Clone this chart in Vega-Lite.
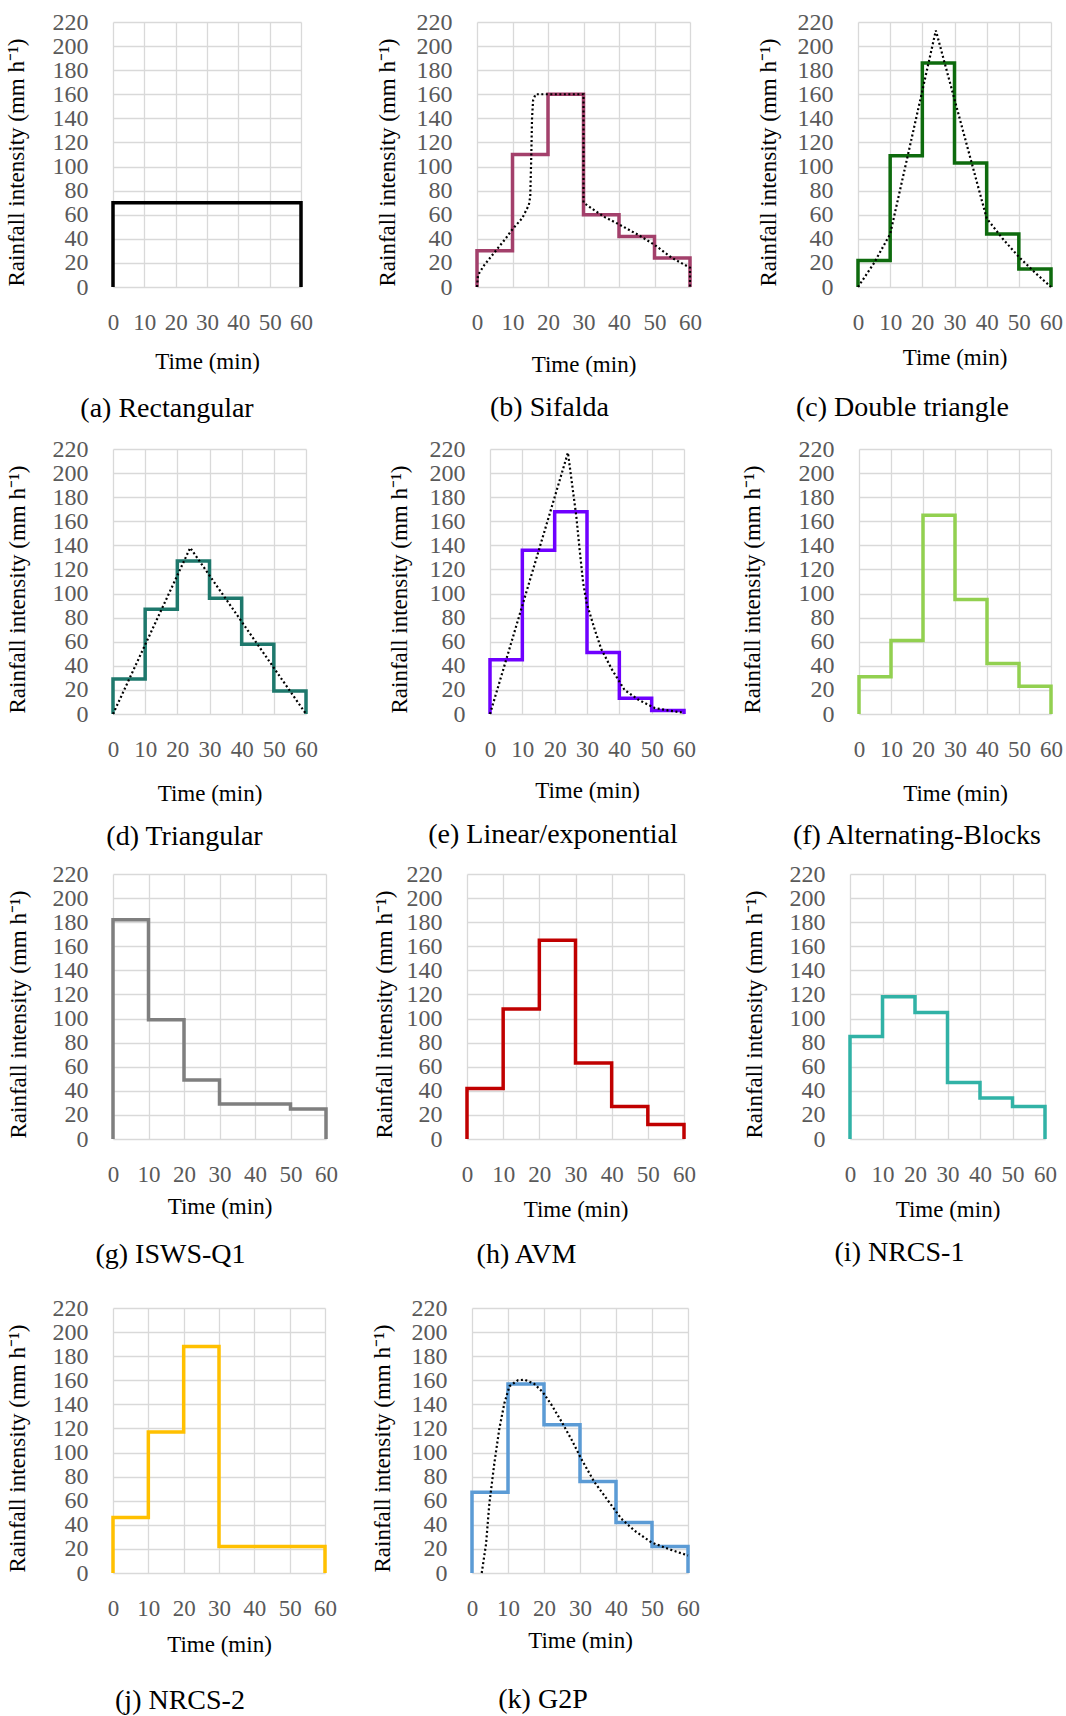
{
  "$schema": "https://vega.github.io/schema/vega-lite/v6.json",
  "padding": {"left": 4, "top": 10, "right": 0, "bottom": 0},
  "background": "white",
  "datasets": {
    "steps": [
      {"p":"a","i":0,"t":0,"v":0},{"p":"a","i":1,"t":0,"v":70},{"p":"a","i":2,"t":10,"v":70},{"p":"a","i":3,"t":20,"v":70},{"p":"a","i":4,"t":30,"v":70},{"p":"a","i":5,"t":40,"v":70},{"p":"a","i":6,"t":50,"v":70},{"p":"a","i":7,"t":60,"v":0},
      {"p":"b","i":0,"t":0,"v":0},{"p":"b","i":1,"t":0,"v":30},{"p":"b","i":2,"t":10,"v":110},{"p":"b","i":3,"t":20,"v":160},{"p":"b","i":4,"t":30,"v":60},{"p":"b","i":5,"t":40,"v":42},{"p":"b","i":6,"t":50,"v":24},{"p":"b","i":7,"t":60,"v":0},
      {"p":"c","i":0,"t":0,"v":0},{"p":"c","i":1,"t":0,"v":22},{"p":"c","i":2,"t":10,"v":109},{"p":"c","i":3,"t":20,"v":186},{"p":"c","i":4,"t":30,"v":103},{"p":"c","i":5,"t":40,"v":44},{"p":"c","i":6,"t":50,"v":15},{"p":"c","i":7,"t":60,"v":0},
      {"p":"d","i":0,"t":0,"v":0},{"p":"d","i":1,"t":0,"v":29},{"p":"d","i":2,"t":10,"v":87},{"p":"d","i":3,"t":20,"v":127},{"p":"d","i":4,"t":30,"v":96},{"p":"d","i":5,"t":40,"v":58},{"p":"d","i":6,"t":50,"v":19},{"p":"d","i":7,"t":60,"v":0},
      {"p":"e","i":0,"t":0,"v":0},{"p":"e","i":1,"t":0,"v":45},{"p":"e","i":2,"t":10,"v":136},{"p":"e","i":3,"t":20,"v":168},{"p":"e","i":4,"t":30,"v":51},{"p":"e","i":5,"t":40,"v":13},{"p":"e","i":6,"t":50,"v":3},{"p":"e","i":7,"t":60,"v":0},
      {"p":"f","i":0,"t":0,"v":0},{"p":"f","i":1,"t":0,"v":31},{"p":"f","i":2,"t":10,"v":61},{"p":"f","i":3,"t":20,"v":165},{"p":"f","i":4,"t":30,"v":95},{"p":"f","i":5,"t":40,"v":42},{"p":"f","i":6,"t":50,"v":23},{"p":"f","i":7,"t":60,"v":0},
      {"p":"g","i":0,"t":0,"v":0},{"p":"g","i":1,"t":0,"v":182},{"p":"g","i":2,"t":10,"v":99},{"p":"g","i":3,"t":20,"v":49},{"p":"g","i":4,"t":30,"v":29},{"p":"g","i":5,"t":40,"v":29},{"p":"g","i":6,"t":50,"v":25},{"p":"g","i":7,"t":60,"v":0},
      {"p":"h","i":0,"t":0,"v":0},{"p":"h","i":1,"t":0,"v":42},{"p":"h","i":2,"t":10,"v":108},{"p":"h","i":3,"t":20,"v":165},{"p":"h","i":4,"t":30,"v":63},{"p":"h","i":5,"t":40,"v":27},{"p":"h","i":6,"t":50,"v":12},{"p":"h","i":7,"t":60,"v":0},
      {"p":"i","i":0,"t":0,"v":0},{"p":"i","i":1,"t":0,"v":85},{"p":"i","i":2,"t":10,"v":118},{"p":"i","i":3,"t":20,"v":105},{"p":"i","i":4,"t":30,"v":47},{"p":"i","i":5,"t":40,"v":34},{"p":"i","i":6,"t":50,"v":27},{"p":"i","i":7,"t":60,"v":0},
      {"p":"j","i":0,"t":0,"v":0},{"p":"j","i":1,"t":0,"v":46},{"p":"j","i":2,"t":10,"v":117},{"p":"j","i":3,"t":20,"v":188},{"p":"j","i":4,"t":30,"v":22},{"p":"j","i":5,"t":40,"v":22},{"p":"j","i":6,"t":50,"v":22},{"p":"j","i":7,"t":60,"v":0},
      {"p":"k","i":0,"t":0,"v":0},{"p":"k","i":1,"t":0,"v":67},{"p":"k","i":2,"t":10,"v":157},{"p":"k","i":3,"t":20,"v":123},{"p":"k","i":4,"t":30,"v":76},{"p":"k","i":5,"t":40,"v":42},{"p":"k","i":6,"t":50,"v":22},{"p":"k","i":7,"t":60,"v":0}
    ],
    "dotted": [
      {"p":"b","i":0,"t":0,"v":0},{"p":"b","i":1,"t":0.3,"v":10},{"p":"b","i":2,"t":2,"v":18},{"p":"b","i":3,"t":5,"v":29},{"p":"b","i":4,"t":8,"v":40},{"p":"b","i":5,"t":10,"v":48},{"p":"b","i":6,"t":12.7,"v":57},{"p":"b","i":7,"t":14.6,"v":68},{"p":"b","i":8,"t":15,"v":75},{"p":"b","i":9,"t":15.3,"v":110},{"p":"b","i":10,"t":15.5,"v":140},{"p":"b","i":11,"t":15.8,"v":155},{"p":"b","i":12,"t":16.5,"v":160},{"p":"b","i":13,"t":30,"v":160},{"p":"b","i":14,"t":30,"v":70},{"p":"b","i":15,"t":33.4,"v":63},{"p":"b","i":16,"t":36,"v":58},{"p":"b","i":17,"t":40,"v":52},{"p":"b","i":18,"t":45.6,"v":43},{"p":"b","i":19,"t":50,"v":35},{"p":"b","i":20,"t":55,"v":24},{"p":"b","i":21,"t":60,"v":16},{"p":"b","i":22,"t":60,"v":0},
      {"p":"c","i":0,"t":0,"v":0},{"p":"c","i":1,"t":5,"v":20},{"p":"c","i":2,"t":10,"v":44},{"p":"c","i":3,"t":24.2,"v":213},{"p":"c","i":4,"t":40,"v":57},{"p":"c","i":5,"t":45,"v":40},{"p":"c","i":6,"t":50,"v":25},{"p":"c","i":7,"t":55,"v":12},{"p":"c","i":8,"t":60,"v":0},
      {"p":"d","i":0,"t":0,"v":0},{"p":"d","i":1,"t":24,"v":138},{"p":"d","i":2,"t":60,"v":0},
      {"p":"e","i":0,"t":0,"v":0},{"p":"e","i":1,"t":24.1,"v":217},{"p":"e","i":2,"t":26.7,"v":164},{"p":"e","i":3,"t":27.7,"v":137},{"p":"e","i":4,"t":28.8,"v":109},{"p":"e","i":5,"t":29.9,"v":92},{"p":"e","i":6,"t":32.4,"v":70},{"p":"e","i":7,"t":34.4,"v":54},{"p":"e","i":8,"t":37.7,"v":37},{"p":"e","i":9,"t":41.6,"v":20},{"p":"e","i":10,"t":45.8,"v":12},{"p":"e","i":11,"t":50.9,"v":5},{"p":"e","i":12,"t":55,"v":3},{"p":"e","i":13,"t":60,"v":1},
      {"p":"k","i":0,"t":2.7,"v":0},{"p":"k","i":1,"t":3.9,"v":24},{"p":"k","i":2,"t":4.8,"v":57},{"p":"k","i":3,"t":6.2,"v":91},{"p":"k","i":4,"t":7.6,"v":120},{"p":"k","i":5,"t":9,"v":141},{"p":"k","i":6,"t":10.4,"v":155},{"p":"k","i":7,"t":12.7,"v":160},{"p":"k","i":8,"t":14.6,"v":160.5},{"p":"k","i":9,"t":17.3,"v":157},{"p":"k","i":10,"t":19.7,"v":150},{"p":"k","i":11,"t":22,"v":140},{"p":"k","i":12,"t":24.8,"v":126},{"p":"k","i":13,"t":27.6,"v":111},{"p":"k","i":14,"t":30.3,"v":95},{"p":"k","i":15,"t":34,"v":75.5},{"p":"k","i":16,"t":37.8,"v":60},{"p":"k","i":17,"t":41.5,"v":45},{"p":"k","i":18,"t":45.2,"v":35},{"p":"k","i":19,"t":49.8,"v":25.5},{"p":"k","i":20,"t":54.5,"v":20},{"p":"k","i":21,"t":60,"v":14.5}
    ]
  },
  "spacing": 14,
  "vconcat": [
    {"spacing": 62, "hconcat": [
      {"width": 188, "height": 265, "title": {"text": "(a) Rectangular", "orient": "bottom", "offset": 22, "dx": -40},
       "encoding": {"x": {"field": "t", "type": "quantitative", "scale": {"domain": [0, 60], "nice": false}, "axis": {"title": "Time (min)", "values": [0,10,20,30,40,50,60], "titlePadding": 16}},
                    "y": {"field": "v", "type": "quantitative", "scale": {"domain": [0, 220], "nice": false}, "axis": {"title": "Rainfall intensity (mm h⁻¹)", "values": [0,20,40,60,80,100,120,140,160,180,200,220], "titlePadding": 24}},
                    "order": {"field": "i"}},
       "layer": [
        {"data": {"name": "steps"}, "transform": [{"filter": "datum.p === 'a'"}], "mark": {"type": "line", "interpolate": "step-after", "color": "#000000", "strokeWidth": 3.5}}
       ]},
      {"spacing": 54, "hconcat": [
        {"width": 213, "height": 265, "title": {"text": "(b) Sifalda", "orient": "bottom", "offset": 18, "dx": -34},
         "encoding": {"x": {"field": "t", "type": "quantitative", "scale": {"domain": [0, 60], "nice": false}, "axis": {"title": "Time (min)", "values": [0,10,20,30,40,50,60], "titlePadding": 19}},
                      "y": {"field": "v", "type": "quantitative", "scale": {"domain": [0, 220], "nice": false}, "axis": {"title": "Rainfall intensity (mm h⁻¹)", "values": [0,20,40,60,80,100,120,140,160,180,200,220], "titlePadding": 17}},
                      "order": {"field": "i"}},
         "layer": [
          {"data": {"name": "steps"}, "transform": [{"filter": "datum.p === 'b'"}], "mark": {"type": "line", "interpolate": "step-after", "color": "#a3406b", "strokeWidth": 3.5}},
          {"data": {"name": "dotted"}, "transform": [{"filter": "datum.p === 'b'"}], "mark": {"type": "line", "color": "#000000", "strokeWidth": 2.2, "strokeDash": [2, 2.5]}}
         ]},
        {"width": 193, "height": 265, "title": {"text": "(c) Double triangle", "orient": "bottom", "offset": 25, "dx": -52},
         "encoding": {"x": {"field": "t", "type": "quantitative", "scale": {"domain": [0, 60], "nice": false}, "axis": {"title": "Time (min)", "values": [0,10,20,30,40,50,60], "titlePadding": 12}},
                      "y": {"field": "v", "type": "quantitative", "scale": {"domain": [0, 220], "nice": false}, "axis": {"title": "Rainfall intensity (mm h⁻¹)", "values": [0,20,40,60,80,100,120,140,160,180,200,220], "titlePadding": 17}},
                      "order": {"field": "i"}},
         "layer": [
          {"data": {"name": "steps"}, "transform": [{"filter": "datum.p === 'c'"}], "mark": {"type": "line", "interpolate": "step-after", "color": "#0e6b0e", "strokeWidth": 3.5}},
          {"data": {"name": "dotted"}, "transform": [{"filter": "datum.p === 'c'"}], "mark": {"type": "line", "color": "#000000", "strokeWidth": 2.2, "strokeDash": [2, 2.5]}}
         ]}
      ]}
    ]},
    {"spacing": 11, "vconcat": [
      {"spacing": 69, "hconcat": [
        {"width": 193, "height": 265, "title": {"text": "(d) Triangular", "orient": "bottom", "offset": 18, "dx": -25},
         "encoding": {"x": {"field": "t", "type": "quantitative", "scale": {"domain": [0, 60], "nice": false}, "axis": {"title": "Time (min)", "values": [0,10,20,30,40,50,60], "titlePadding": 21}},
                      "y": {"field": "v", "type": "quantitative", "scale": {"domain": [0, 220], "nice": false}, "axis": {"title": "Rainfall intensity (mm h⁻¹)", "values": [0,20,40,60,80,100,120,140,160,180,200,220], "titlePadding": 23}},
                      "order": {"field": "i"}},
         "layer": [
          {"data": {"name": "steps"}, "transform": [{"filter": "datum.p === 'd'"}], "mark": {"type": "line", "interpolate": "step-after", "color": "#1e786c", "strokeWidth": 3.5}},
          {"data": {"name": "dotted"}, "transform": [{"filter": "datum.p === 'd'"}], "mark": {"type": "line", "color": "#000000", "strokeWidth": 2.2, "strokeDash": [2, 2.5]}}
         ]},
        {"spacing": 44, "hconcat": [
          {"width": 194, "height": 265, "title": {"text": "(e) Linear/exponential", "orient": "bottom", "offset": 19, "dx": -34},
           "encoding": {"x": {"field": "t", "type": "quantitative", "scale": {"domain": [0, 60], "nice": false}, "axis": {"title": "Time (min)", "values": [0,10,20,30,40,50,60], "titlePadding": 18}},
                        "y": {"field": "v", "type": "quantitative", "scale": {"domain": [0, 220], "nice": false}, "axis": {"title": "Rainfall intensity (mm h⁻¹)", "values": [0,20,40,60,80,100,120,140,160,180,200,220], "titlePadding": 18}},
                        "order": {"field": "i"}},
           "layer": [
            {"data": {"name": "steps"}, "transform": [{"filter": "datum.p === 'e'"}], "mark": {"type": "line", "interpolate": "step-after", "color": "#6f00ff", "strokeWidth": 3.5}},
            {"data": {"name": "dotted"}, "transform": [{"filter": "datum.p === 'e'"}], "mark": {"type": "line", "color": "#000000", "strokeWidth": 2.2, "strokeDash": [2, 2.5]}}
           ]},
          {"width": 192, "height": 265, "title": {"text": "(f) Alternating-Blocks", "orient": "bottom", "offset": 17, "dx": -38},
           "encoding": {"x": {"field": "t", "type": "quantitative", "scale": {"domain": [0, 60], "nice": false}, "axis": {"title": "Time (min)", "values": [0,10,20,30,40,50,60], "titlePadding": 21}},
                        "y": {"field": "v", "type": "quantitative", "scale": {"domain": [0, 220], "nice": false}, "axis": {"title": "Rainfall intensity (mm h⁻¹)", "values": [0,20,40,60,80,100,120,140,160,180,200,220], "titlePadding": 34}},
                        "order": {"field": "i"}},
           "layer": [
            {"data": {"name": "steps"}, "transform": [{"filter": "datum.p === 'f'"}], "mark": {"type": "line", "interpolate": "step-after", "color": "#92d050", "strokeWidth": 3.5}}
           ]}
        ]}
      ]},
      {"spacing": 27, "vconcat": [
        {"spacing": 34, "hconcat": [
          {"width": 213, "height": 265, "title": {"text": "(g) ISWS-Q1", "orient": "bottom", "offset": 23, "dx": -49},
           "encoding": {"x": {"field": "t", "type": "quantitative", "scale": {"domain": [0, 60], "nice": false}, "axis": {"title": "Time (min)", "values": [0,10,20,30,40,50,60], "titlePadding": 9}},
                        "y": {"field": "v", "type": "quantitative", "scale": {"domain": [0, 220], "nice": false}, "axis": {"title": "Rainfall intensity (mm h⁻¹)", "values": [0,20,40,60,80,100,120,140,160,180,200,220], "titlePadding": 22}},
                        "order": {"field": "i"}},
           "layer": [
            {"data": {"name": "steps"}, "transform": [{"filter": "datum.p === 'g'"}], "mark": {"type": "line", "interpolate": "step-after", "color": "#7f7f7f", "strokeWidth": 3.5}}
           ]},
          {"spacing": 46, "hconcat": [
            {"width": 217, "height": 265, "title": {"text": "(h) AVM", "orient": "bottom", "offset": 20, "dx": -49},
             "encoding": {"x": {"field": "t", "type": "quantitative", "scale": {"domain": [0, 60], "nice": false}, "axis": {"title": "Time (min)", "values": [0,10,20,30,40,50,60], "titlePadding": 12}},
                          "y": {"field": "v", "type": "quantitative", "scale": {"domain": [0, 220], "nice": false}, "axis": {"title": "Rainfall intensity (mm h⁻¹)", "values": [0,20,40,60,80,100,120,140,160,180,200,220], "titlePadding": 10}},
                          "order": {"field": "i"}},
             "layer": [
              {"data": {"name": "steps"}, "transform": [{"filter": "datum.p === 'h'"}], "mark": {"type": "line", "interpolate": "step-after", "color": "#c00000", "strokeWidth": 3.5}}
             ]},
            {"width": 195, "height": 265, "title": {"text": "(i) NRCS-1", "orient": "bottom", "offset": 18, "dx": -48},
             "encoding": {"x": {"field": "t", "type": "quantitative", "scale": {"domain": [0, 60], "nice": false}, "axis": {"title": "Time (min)", "values": [0,10,20,30,40,50,60], "titlePadding": 12}},
                          "y": {"field": "v", "type": "quantitative", "scale": {"domain": [0, 220], "nice": false}, "axis": {"title": "Rainfall intensity (mm h⁻¹)", "values": [0,20,40,60,80,100,120,140,160,180,200,220], "titlePadding": 23}},
                          "order": {"field": "i"}},
             "layer": [
              {"data": {"name": "steps"}, "transform": [{"filter": "datum.p === 'i'"}], "mark": {"type": "line", "interpolate": "step-after", "color": "#31b2a6", "strokeWidth": 3.5}}
             ]}
          ]}
        ]},
        {"spacing": 33, "hconcat": [
          {"width": 212, "height": 265, "title": {"text": "(j) NRCS-2", "orient": "bottom", "offset": 31, "dx": -39},
           "encoding": {"x": {"field": "t", "type": "quantitative", "scale": {"domain": [0, 60], "nice": false}, "axis": {"title": "Time (min)", "values": [0,10,20,30,40,50,60], "titlePadding": 13}},
                        "y": {"field": "v", "type": "quantitative", "scale": {"domain": [0, 220], "nice": false}, "axis": {"title": "Rainfall intensity (mm h⁻¹)", "values": [0,20,40,60,80,100,120,140,160,180,200,220], "titlePadding": 23}},
                        "order": {"field": "i"}},
           "layer": [
            {"data": {"name": "steps"}, "transform": [{"filter": "datum.p === 'j'"}], "mark": {"type": "line", "interpolate": "step-after", "color": "#ffc000", "strokeWidth": 3.5}}
           ]},
          {"width": 216, "height": 265, "title": {"text": "(k) G2P", "orient": "bottom", "offset": 34, "dx": -37},
           "encoding": {"x": {"field": "t", "type": "quantitative", "scale": {"domain": [0, 60], "nice": false}, "axis": {"title": "Time (min)", "values": [0,10,20,30,40,50,60], "titlePadding": 9}},
                        "y": {"field": "v", "type": "quantitative", "scale": {"domain": [0, 220], "nice": false}, "axis": {"title": "Rainfall intensity (mm h⁻¹)", "values": [0,20,40,60,80,100,120,140,160,180,200,220], "titlePadding": 17}},
                        "order": {"field": "i"}},
           "layer": [
            {"data": {"name": "steps"}, "transform": [{"filter": "datum.p === 'k'"}], "mark": {"type": "line", "interpolate": "step-after", "color": "#5b9bd5", "strokeWidth": 3.5}},
            {"data": {"name": "dotted"}, "transform": [{"filter": "datum.p === 'k'"}], "mark": {"type": "line", "color": "#000000", "strokeWidth": 2.2, "strokeDash": [2, 2.5]}}
           ]}
        ]}
      ]}
    ]}
  ],
  "config": {
    "view": {"stroke": null},
    "font": "Liberation Serif",
    "axis": {"domain": false, "ticks": false, "tickSize": 0, "grid": true, "gridColor": "#d9d9d9", "gridWidth": 1.3, "labelFont": "Liberation Serif", "labelColor": "#595959", "labelFlush": false, "labelOverlap": false, "titleFont": "Liberation Serif", "titleFontSize": 23, "titleFontWeight": "normal", "titleColor": "#000000"},
    "axisX": {"labelFontSize": 23, "labelPadding": 24},
    "axisY": {"labelFontSize": 24, "labelPadding": 25, "titleY": 140},
    "title": {"font": "Liberation Serif", "fontSize": 28, "fontWeight": "normal", "color": "#000000", "anchor": "middle", "frame": "group"}
  }
}
